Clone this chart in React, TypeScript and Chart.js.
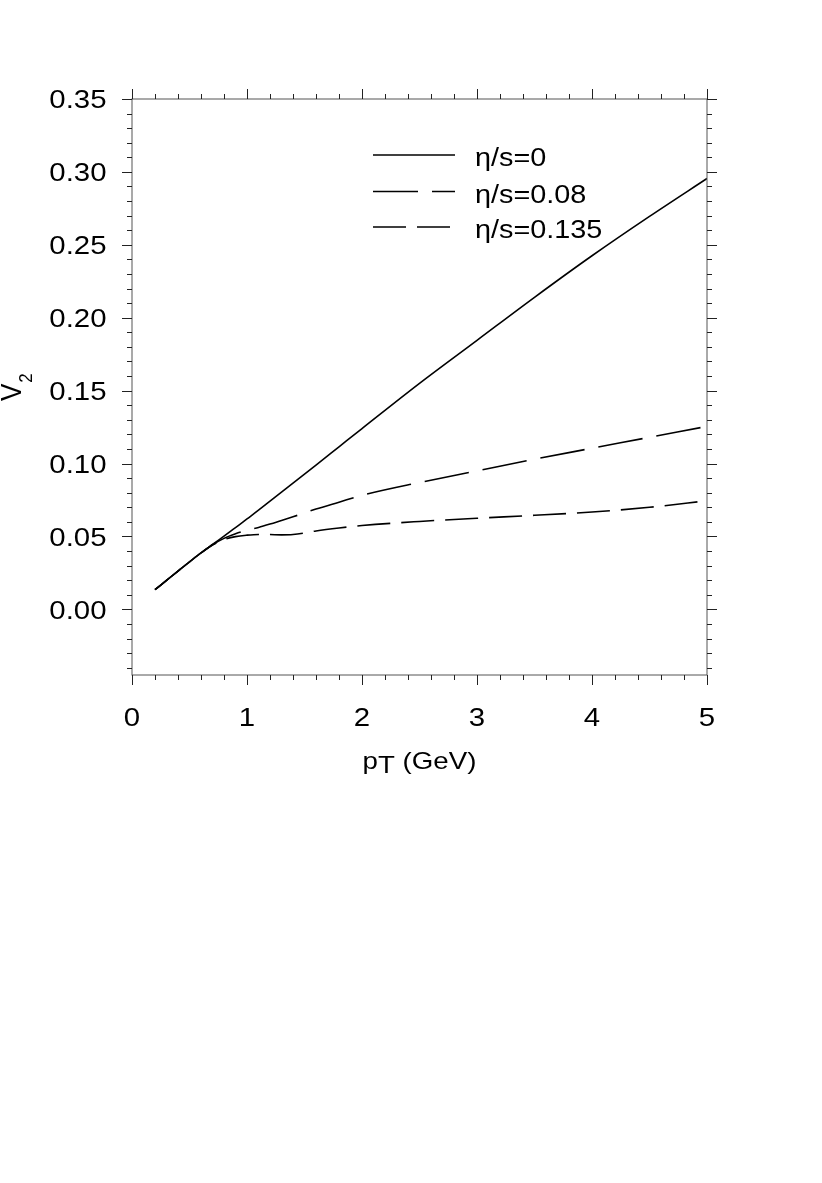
import React, { useEffect, useRef } from "react";
import { Chart, registerables } from "chart.js";

Chart.register(...registerables);

// ---- data ----
const pT = [0.2, 0.3, 0.4, 0.5, 0.6, 0.7, 0.8, 0.9, 1.0, 1.1, 1.2, 1.3, 1.4, 1.6, 1.8, 2.0, 2.5, 3.0, 3.5, 4.0, 4.5, 5.0];
const v2Ideal = [0.0135, 0.0199, 0.0263, 0.0326, 0.0387, 0.0445, 0.0502, 0.056, 0.062, 0.068, 0.0742, 0.0804, 0.0866, 0.099, 0.1115, 0.124, 0.155, 0.1845, 0.214, 0.2425, 0.2695, 0.2955];
const v2Eta008 = [0.0135, 0.0199, 0.0263, 0.0326, 0.0387, 0.0443, 0.0487, 0.0518, 0.0543, 0.0562, 0.0585, 0.061, 0.0635, 0.0688, 0.0735, 0.0782, 0.087, 0.095, 0.103, 0.1105, 0.118, 0.1255];
const v2Eta0135 = [0.0135, 0.0199, 0.0263, 0.0326, 0.0387, 0.0441, 0.0478, 0.0499, 0.0509, 0.0514, 0.0513, 0.0511, 0.0513, 0.0538, 0.0558, 0.0575, 0.0603, 0.0625, 0.0645, 0.0668, 0.070, 0.0745];
const seriesLabels = ["η/s=0", "η/s=0.08", "η/s=0.135"];

const xTickValues = [0, 1, 2, 3, 4, 5];
const xTickLabels = ["0", "1", "2", "3", "4", "5"];
const yTickValues = [0, 0.05, 0.1, 0.15, 0.2, 0.25, 0.3, 0.35];
const yTickLabels = ["0.00", "0.05", "0.10", "0.15", "0.20", "0.25", "0.30", "0.35"];

const X_MIN = 0;
const X_MAX = 5;
const Y_MIN = -0.045;
const Y_MAX = 0.35;

const dashes: number[][] = [[], [45, 14], [33, 11]];
const FONT = '"Liberation Sans", Arial, Helvetica, sans-serif';
const SX = 1.13; // horizontal stretch of the reference's lettering

function stretchedText(ctx: CanvasRenderingContext2D, text: string, x: number, y: number, align: CanvasTextAlign) {
  ctx.save();
  ctx.translate(x, y);
  ctx.scale(SX, 1);
  ctx.textAlign = align;
  ctx.textBaseline = "alphabetic";
  ctx.fillText(text, 0, 0);
  ctx.restore();
}

const framePlugin = {
  id: "framePlugin",
  afterDraw(chart: any) {
    const ctx: CanvasRenderingContext2D = chart.ctx;
    const xs = chart.scales.x;
    const ys = chart.scales.y;
    const ca = chart.chartArea;
    ctx.save();
    // frame
    ctx.strokeStyle = "#555";
    ctx.lineWidth = 1;
    ctx.setLineDash([]);
    ctx.strokeRect(ca.left, ca.top, ca.right - ca.left, ca.bottom - ca.top);

    // ticks
    ctx.strokeStyle = "#222";
    ctx.beginPath();
    for (let i = 0; i <= 25; i++) {
      const v = i * 0.2;
      const px = Math.round(xs.getPixelForValue(v)) + 0.5;
      const len = i % 5 === 0 ? 10 : 5;
      ctx.moveTo(px, ca.bottom);
      ctx.lineTo(px, ca.bottom + len);
      ctx.moveTo(px, ca.top);
      ctx.lineTo(px, ca.top - len);
    }
    for (let i = -4; i <= 35; i++) {
      const v = i / 100;
      const py = Math.round(ys.getPixelForValue(v)) + 0.5;
      const len = i % 5 === 0 ? 10 : 5;
      ctx.moveTo(ca.left, py);
      ctx.lineTo(ca.left - len, py);
      ctx.moveTo(ca.right, py);
      ctx.lineTo(ca.right + len, py);
    }
    ctx.stroke();

    // tick labels
    ctx.fillStyle = "#000";
    ctx.font = `26px ${FONT}`;
    yTickValues.forEach((v, i) => {
      const py = ys.getPixelForValue(v);
      stretchedText(ctx, yTickLabels[i], ca.left - 25.5, py + 9.3, "right");
    });
    xTickValues.forEach((v, i) => {
      const px = xs.getPixelForValue(v);
      stretchedText(ctx, xTickLabels[i], px, ca.bottom + 50.7, "center");
    });

    // x title  p_T (GeV)
    ctx.font = `24.5px ${FONT}`;
    const cx = (ca.left + ca.right) / 2;
    const wP = ctx.measureText("p").width * SX;
    const wT = ctx.measureText("T").width * SX;
    const wRest = ctx.measureText(" (GeV)").width * SX;
    const total = wP + wT + wRest;
    const x0 = cx - total / 2;
    const base = ca.bottom + 94;
    stretchedText(ctx, "p", x0, base, "left");
    stretchedText(ctx, "T", x0 + wP, base + 4, "left");
    stretchedText(ctx, " (GeV)", x0 + wP + wT, base, "left");

    // y title  V_2 (rotated)
    ctx.save();
    ctx.translate(21, 401);
    ctx.rotate(-Math.PI / 2);
    ctx.scale(1, SX);
    ctx.textAlign = "left";
    ctx.textBaseline = "alphabetic";
    ctx.font = `26px ${FONT}`;
    ctx.fillText("V", 0, 0);
    const wV = ctx.measureText("V").width;
    ctx.font = `17px ${FONT}`;
    ctx.fillText("2", wV + 1, 9.5);
    ctx.restore();

    // legend
    const legendY = [155, 191.5, 227];
    ctx.lineWidth = 1.5;
    ctx.strokeStyle = "#000";
    ctx.font = `25.5px ${FONT}`;
    seriesLabels.forEach((lab, i) => {
      ctx.setLineDash(dashes[i]);
      ctx.beginPath();
      ctx.moveTo(373, legendY[i]);
      ctx.lineTo(455, legendY[i]);
      ctx.stroke();
      stretchedText(ctx, lab, 475, legendY[i] + 11, "left");
    });
    ctx.setLineDash([]);
    ctx.restore();
  },
};

export default function App() {
  const ref = useRef<HTMLCanvasElement | null>(null);
  useEffect(() => {
    if (!ref.current) return;
    const mk = (vals: number[]) => pT.map((x, i) => ({ x, y: vals[i] }));
    const chart = new Chart(ref.current, {
      type: "line",
      data: {
        datasets: [v2Ideal, v2Eta008, v2Eta0135].map((vals, i) => ({
          label: seriesLabels[i],
          data: mk(vals),
          borderColor: "#000",
          borderWidth: 1.6,
          borderDash: dashes[i],
          pointRadius: 0,
          fill: false,
          cubicInterpolationMode: "monotone" as const,
        })),
      },
      options: {
        animation: false,
        responsive: false,
        devicePixelRatio: 1,
        layout: { padding: { left: 132, top: 99, right: 115, bottom: 508 } },
        plugins: { legend: { display: false }, tooltip: { enabled: false } },
        scales: {
          x: { type: "linear", min: X_MIN, max: X_MAX, display: false },
          y: { type: "linear", min: Y_MIN, max: Y_MAX, display: false },
        },
      },
      plugins: [framePlugin],
    });
    return () => chart.destroy();
  }, []);
  return (
    <div style={{ position: "absolute", left: 0, top: 0, width: 822, height: 1183, background: "#fff" }}>
      <canvas ref={ref} width={822} height={1183} style={{ width: 822, height: 1183, display: "block" }} />
    </div>
  );
}
